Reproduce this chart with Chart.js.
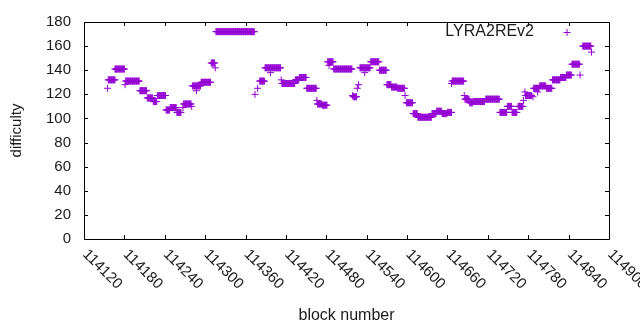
<!DOCTYPE html>
<html>
<head>
<meta charset="utf-8">
<script src="https://cdn.jsdelivr.net/npm/chart.js@4/dist/chart.umd.min.js"></script>
<style>
    html, body { margin: 0; padding: 0; background: #fff; }
    #wrap { width: 640px; height: 330px; }
</style>
</head>
<body>
<div id="wrap"><canvas id="chart" width="640" height="330"></canvas></div>
<script>
// runs of blocks with the same difficulty
var blockStart = [
    114155, 114156, 114166, 114181, 114182, 114203, 114214, 114223, 114229, 114242,
    114248, 114258, 114267, 114268, 114280, 114281, 114287, 114294, 114309, 114315,
    114316, 114374, 114378, 114381, 114389, 114397, 114413, 114414, 114434, 114440,
    114451, 114466, 114467, 114474, 114482, 114484, 114491, 114519, 114520, 114526,
    114528, 114530, 114537, 114546, 114559, 114570, 114577, 114586, 114597, 114599,
    114609, 114616, 114637, 114644, 114652, 114660, 114666, 114667, 114685, 114686,
    114693, 114698, 114717, 114738, 114749, 114756, 114765, 114773, 114775, 114776,
    114787, 114788, 114794, 114797, 114807, 114816, 114828, 114837, 114845, 114857,
    114861, 114874
];
var blockEnd = [
    114155, 114166, 114180, 114181, 114202, 114213, 114222, 114228, 114241, 114247,
    114257, 114264, 114267, 114279, 114280, 114293, 114287, 114308, 114314, 114315,
    114373, 114374, 114378, 114388, 114412, 114397, 114413, 114433, 114439, 114450,
    114465, 114466, 114473, 114481, 114490, 114484, 114518, 114519, 114525, 114526,
    114528, 114545, 114537, 114558, 114569, 114576, 114585, 114596, 114597, 114608,
    114615, 114636, 114643, 114651, 114659, 114666, 114666, 114684, 114685, 114692,
    114697, 114715, 114737, 114748, 114755, 114763, 114772, 114773, 114775, 114785,
    114787, 114796, 114794, 114806, 114815, 114827, 114836, 114844, 114856, 114857,
    114873, 114874
];
var difficulty = [
    125, 132, 141, 128, 131, 123, 117, 114, 119, 107,
    109, 105, 109, 112, 110, 127, 123, 130, 146, 142,
    172, 120, 125, 131, 142, 138, 132, 129, 132, 134,
    125, 115, 112, 111, 147, 144, 141, 119, 118, 125,
    128, 142, 138, 147, 140, 128, 126, 125, 119, 113,
    104, 101, 104, 106, 104, 105, 129, 131, 119, 116,
    113, 114, 116, 105, 110, 105, 110, 115, 122, 119,
    118, 125, 122, 127, 125, 132, 134, 136, 145, 136,
    160, 155
];

var xMin = 114120, xMax = 114900, xStep = 60;
var yMin = 0, yMax = 180, yStep = 20;
var seriesName = 'LYRA2REv2';
var purple = '#9400d3';
var fontFamily = '"Liberation Sans", Arial, sans-serif';
var fontSize = 15;

// one point per block
var points = [];
for (var i = 0; i < blockStart.length; i++) {
    for (var b = blockStart[i]; b <= blockEnd[i]; b++) {
        points.push({x: b, y: difficulty[i]});
    }
}

var framePlugin = {
    id: 'frame',
    afterDraw: function (chart) {
        var ctx = chart.ctx;
        var a = chart.chartArea;
        var xs = chart.scales.x, ys = chart.scales.y;
        var tl = 4;
        ctx.save();
        ctx.strokeStyle = '#000';
        ctx.lineWidth = 1;
        ctx.beginPath();
        ctx.rect(Math.round(a.left) + 0.5, Math.round(a.top) + 0.5,
            Math.round(a.right - a.left), Math.round(a.bottom - a.top));
        xs.ticks.forEach(function (t) {
            var px = Math.round(xs.getPixelForValue(t.value)) + 0.5;
            ctx.moveTo(px, a.bottom); ctx.lineTo(px, a.bottom - tl);
            ctx.moveTo(px, a.top); ctx.lineTo(px, a.top + tl);
        });
        ys.ticks.forEach(function (t) {
            var py = Math.round(ys.getPixelForValue(t.value)) + 0.5;
            ctx.moveTo(a.left, py); ctx.lineTo(a.left + tl, py);
            ctx.moveTo(a.right, py); ctx.lineTo(a.right - tl, py);
        });
        ctx.stroke();

        // rotated x tick labels (down to the right, like gnuplot rotate by -45)
        ctx.fillStyle = '#1a1a1a';
        ctx.font = fontSize + 'px ' + fontFamily;
        ctx.textAlign = 'left';
        ctx.textBaseline = 'middle';
        xs.ticks.forEach(function (t) {
            var px = xs.getPixelForValue(t.value);
            ctx.save();
            ctx.translate(px + 1, a.bottom + 13);
            ctx.rotate(Math.PI / 4);
            ctx.fillText(String(t.value), 0, 0);
            ctx.restore();
        });

        // key
        ctx.font = '16px ' + fontFamily;
        ctx.textAlign = 'right';
        ctx.fillText(seriesName, 534, 32);
        ctx.strokeStyle = purple;
        ctx.beginPath();
        ctx.moveTo(563.5, 32.5); ctx.lineTo(570.5, 32.5);
        ctx.moveTo(567, 29); ctx.lineTo(567, 36);
        ctx.stroke();
        ctx.restore();
    }
};

new Chart(document.getElementById('chart'), {
    type: 'scatter',
    data: {
        datasets: [{
            label: seriesName,
            data: points,
            pointStyle: 'cross',
            pointRadius: 3.5,
            pointBorderWidth: 1,
            borderColor: purple,
            backgroundColor: purple
        }]
    },
    options: {
        responsive: false,
        animation: false,
        events: [],
        layout: {padding: {top: 19, right: 31, left: 0, bottom: 0}},
        plugins: {legend: {display: false}, tooltip: {enabled: false}},
        scales: {
            x: {
                type: 'linear',
                min: xMin,
                max: xMax,
                ticks: {stepSize: xStep, display: false},
                grid: {display: false},
                border: {display: false},
                title: {
                    display: true,
                    text: 'block number',
                    color: '#1a1a1a',
                    font: {family: fontFamily, size: 16},
                    padding: {top: 0, bottom: 5}
                },
                afterFit: function (s) { s.height = 91; }
            },
            y: {
                min: yMin,
                max: yMax,
                ticks: {
                    stepSize: yStep,
                    color: '#1a1a1a',
                    padding: 13,
                    font: {family: fontFamily, size: fontSize}
                },
                grid: {display: false, drawTicks: false},
                border: {display: false},
                title: {
                    display: true,
                    text: 'difficulty',
                    color: '#1a1a1a',
                    font: {family: fontFamily, size: fontSize},
                    padding: {top: 8, bottom: 0}
                },
                afterFit: function (s) { s.width = 84; }
            }
        }
    },
    plugins: [framePlugin]
});
</script>
</body>
</html>
